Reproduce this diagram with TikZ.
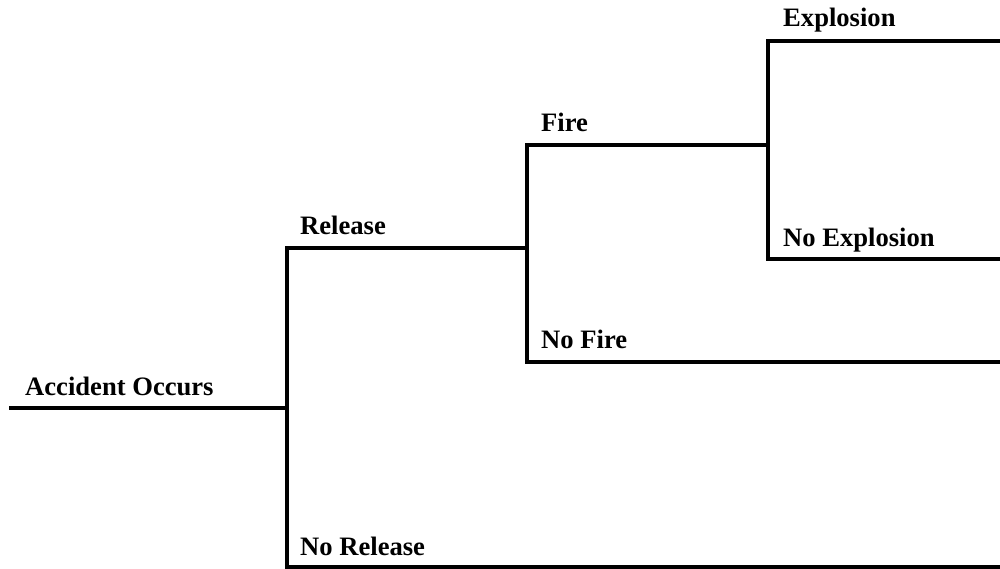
\documentclass[tikz,border=0pt]{standalone}
\usepackage{fontspec}
\setmainfont{Liberation Serif}
\begin{document}
\begin{tikzpicture}[x=1pt,y=-1pt,
  branch/.style={line width=4.5pt,line join=miter,line cap=butt},
  lbl/.style={anchor=base west,inner sep=0pt,font=\fontsize{26.6}{30}\selectfont\bfseries}]
\useasboundingbox (0,0) rectangle (1000,569);
% coordinates
\coordinate (s) at (9,408);
\coordinate (j1) at (287,408);
\coordinate (r) at (287,248);
\coordinate (nr) at (287,567);
\coordinate (nrE) at (1002,567);
\coordinate (j2) at (527,248);
\coordinate (f) at (527,145);
\coordinate (nf) at (527,362);
\coordinate (nfE) at (1002,362);
\coordinate (j3) at (768,145);
\coordinate (e) at (768,41);
\coordinate (eE) at (1002,41);
\coordinate (ne) at (768,259);
\coordinate (neE) at (1002,259);
% branches
\draw[branch] (s) -- (j1);
\draw[branch] (j2) -- (r) -- (nr) -- (nrE);
\draw[branch] (j3) -- (f) -- (nf) -- (nfE);
\draw[branch] (eE) -- (e) -- (ne) -- (neE);
% labels
\node[lbl] (tA) at (25,395) {Accident Occurs};
\node[lbl] (tR) at (300,234) {Release};
\node[lbl] (tNR) at (300,555) {No Release};
\node[lbl] (tF) at (541,132) {Fire};
\node[lbl] (tNF) at (541,348) {No Fire};
\node[lbl] (tE) at (783,27) {Explosion};
\node[lbl] (tNE) at (783,246) {No Explosion};
\end{tikzpicture}
\end{document}
